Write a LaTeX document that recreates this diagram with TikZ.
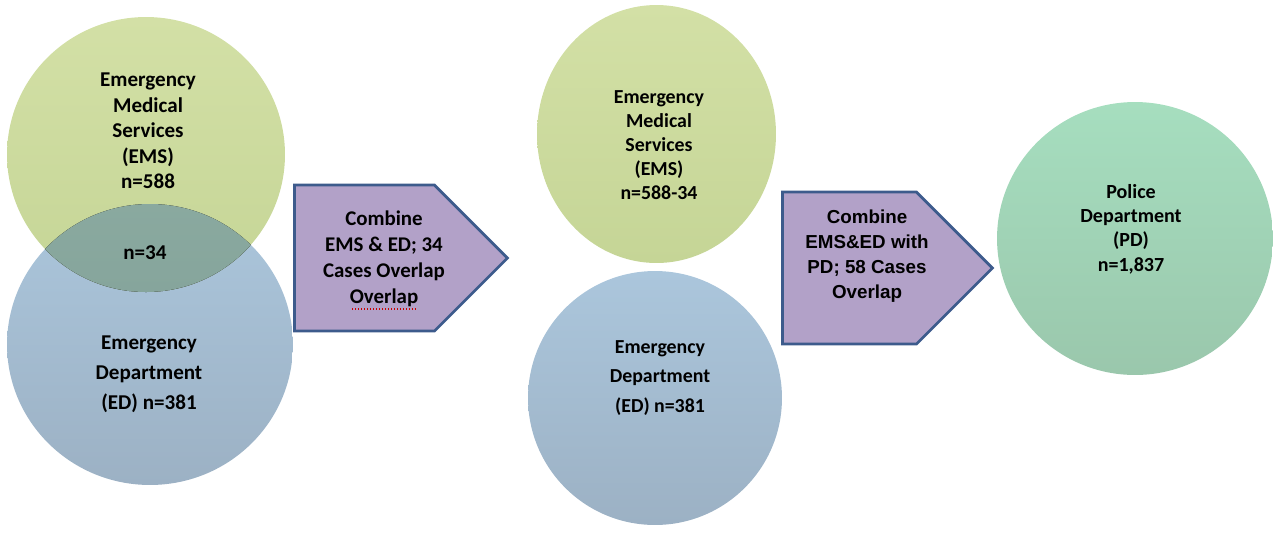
\documentclass[tikz,border=0pt]{standalone}
\usepackage{fontspec}
\setmainfont{Carlito}
\newfontfamily\arialfont{Liberation Sans}
\usetikzlibrary{positioning, shapes.geometric, shapes.symbols}

\definecolor{emsTop}{HTML}{D3E0A6}
\definecolor{emsBottom}{HTML}{C5D596}
\definecolor{edTop}{HTML}{ABC6DC}
\definecolor{edBottom}{HTML}{9CB1C4}
\definecolor{overlapTop}{HTML}{92B2A6}
\definecolor{overlapBottom}{HTML}{86A59C}
\definecolor{pdTop}{HTML}{A6DEBF}
\definecolor{pdBottom}{HTML}{9AC7AC}
\definecolor{arrowFill}{HTML}{B2A1C8}
\definecolor{arrowLine}{HTML}{3D5B8C}

\begin{document}
\begin{tikzpicture}[
  x=0.02cm, y=-0.02cm,
  blob/.style={ellipse, draw=none, inner sep=0pt},
  emsblob/.style={blob, top color=emsTop, bottom color=emsBottom},
  edblob/.style={blob, top color=edTop, bottom color=edBottom},
  pdblob/.style={blob, top color=pdTop, bottom color=pdBottom},
  combine/.style={signal, signal to=east, signal pointer angle=90, draw=arrowLine,
    line width=1.6pt, fill=arrowFill, inner sep=0pt},
  label/.style={font=\bfseries\fontsize{12}{14.6}\selectfont, align=center, inner sep=0pt},
  smalllabel/.style={font=\bfseries\fontsize{11.3}{13.7}\selectfont, align=center, inner sep=0pt},
  spellmark/.style={red!80!black, densely dotted, line width=0.7pt}
]
\useasboundingbox (0,0) rectangle (1280,535);

% First step: overlapping EMS and ED
\node[edblob, minimum width=5.72cm, minimum height=5.62cm] (edLeft) at (150,344.5) {};
\node[emsblob, minimum width=5.56cm, minimum height=5.5cm] (emsLeft) at (146,154.5) {};
\begin{scope}
  \clip (edLeft.center) ellipse [x radius=143, y radius=140.5];
  \fill[top color=overlapTop, bottom color=overlapBottom] (emsLeft.center) ellipse [x radius=139, y radius=137.5];
\end{scope}
\node[label, font=\bfseries\fontsize{12}{14.5}\selectfont] (emsLeftText) at (148,131) {Emergency\\Medical\\Services\\(EMS)\\n=588};
\node[label] (overlapText) at (145,253) {n=34};
\node[label, font=\bfseries\fontsize{12}{17}\selectfont] (edLeftText) at (149,374) {Emergency\\Department\\(ED) n=381};

% First arrow
\node[combine, minimum width=4.26cm, minimum height=2.92cm] (combine1) at (364.5,258) {};
\node[label, font=\bfseries\fontsize{11.9}{14.7}\selectfont] (combine1Text) at (384,259) {Combine\\EMS \& ED; 34\\Cases Overlap\\Overlap};
\draw[spellmark] (352,309) -- (417,309);

% Second step: separated EMS and ED
\node[emsblob, minimum width=4.78cm, minimum height=5.16cm] (emsMid) at (656.5,134) {};
\node[edblob, minimum width=5.08cm, minimum height=5.08cm] (edMid) at (655,398) {};
\node[smalllabel] (emsMidText) at (659,145) {Emergency\\Medical\\Services\\(EMS)\\n=588-34};
\node[smalllabel, font=\bfseries\fontsize{11.3}{17}\selectfont] (edMidText) at (660,378) {Emergency\\Department\\(ED) n=381};

% Second arrow
\node[combine, minimum width=4.2cm, minimum height=3.04cm] (combine2) at (849.5,268) {};
\node[label, font=\arialfont\bfseries\fontsize{10.7}{14.2}\selectfont] (combine2Text) at (867,256) {Combine\\EMS\&ED with\\PD; 58 Cases\\Overlap};

% Third step: police department
\node[pdblob, minimum width=5.52cm, minimum height=5.46cm] (pd) at (1135,238.5) {};
\node[smalllabel, font=\bfseries\fontsize{11.4}{13.9}\selectfont] (pdText) at (1131,229) {Police\\Department\\(PD)\\n=1,837};

\end{tikzpicture}
\end{document}
